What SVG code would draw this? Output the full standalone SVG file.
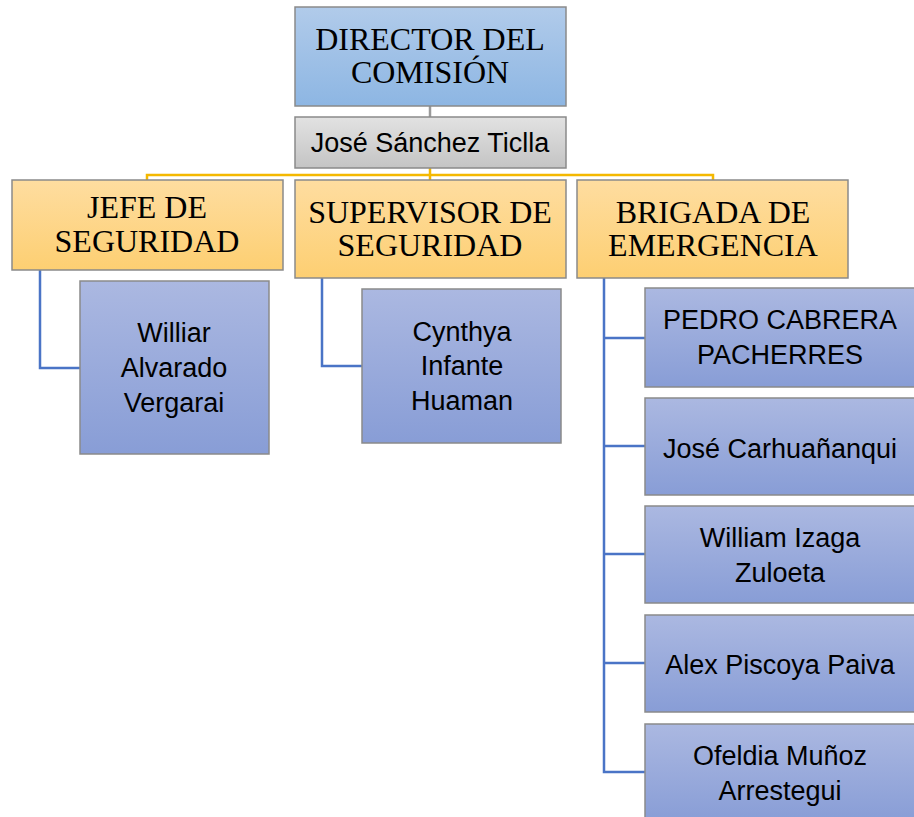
<svg xmlns="http://www.w3.org/2000/svg" width="914" height="817" viewBox="0 0 914 817">
<defs>
<linearGradient id="gBlue" x1="0" y1="0" x2="0" y2="1"><stop offset="0" stop-color="#b1cbea"/><stop offset="1" stop-color="#8db6e3"/></linearGradient>
<linearGradient id="gGray" x1="0" y1="0" x2="0" y2="1"><stop offset="0" stop-color="#e2e2e2"/><stop offset="1" stop-color="#c4c4c4"/></linearGradient>
<linearGradient id="gOrange" x1="0" y1="0" x2="0" y2="1"><stop offset="0" stop-color="#fedda0"/><stop offset="1" stop-color="#fdcf72"/></linearGradient>
<linearGradient id="gPurple" x1="0" y1="0" x2="0" y2="1"><stop offset="0" stop-color="#abb8e1"/><stop offset="1" stop-color="#889dd6"/></linearGradient>
</defs>
<style>
.box{stroke:#8a8a8a;stroke-width:1.5}
.serif{font-family:"Liberation Serif","Times New Roman",serif;font-size:32px;fill:#000;text-anchor:middle}
.sans{font-family:"Liberation Sans",Arial,sans-serif;font-size:27px;fill:#000;text-anchor:middle}
.cy{stroke:#f4b800;stroke-width:2.5;fill:none}
.cb{stroke:#4a74c6;stroke-width:2.5;fill:none}
.cg{stroke:#9a9a9a;stroke-width:2.5;fill:none}
</style>
<g id="connectors">
<path class="cg" d="M430 106V117"/>
<path class="cy" d="M430 168V175M147 180V175H713V180M430 175V180"/>
<path class="cb" d="M40 270V368H80"/>
<path class="cb" d="M322 278V366H362"/>
<path class="cb" d="M604 278V772H645M604 338H645M604 446H645M604 554H645M604 663H645"/>
</g>
<g id="director">
<rect class="box" x="295" y="7" width="271" height="99" fill="url(#gBlue)"/>
<text class="serif" x="430" y="50">DIRECTOR DEL</text>
<text class="serif" x="430" y="83">COMISIÓN</text>
</g>
<g id="jose-sanchez">
<rect class="box" x="295" y="117" width="271" height="51" fill="url(#gGray)"/>
<text class="sans" x="430" y="152">José Sánchez Ticlla</text>
</g>
<g id="jefe">
<rect class="box" x="12" y="180" width="271" height="90" fill="url(#gOrange)"/>
<text class="serif" x="147" y="218">JEFE DE</text>
<text class="serif" x="147" y="252">SEGURIDAD</text>
</g>
<g id="supervisor">
<rect class="box" x="295" y="180" width="271" height="98" fill="url(#gOrange)"/>
<text class="serif" x="430" y="223">SUPERVISOR DE</text>
<text class="serif" x="430" y="256">SEGURIDAD</text>
</g>
<g id="brigada">
<rect class="box" x="577" y="180" width="271" height="98" fill="url(#gOrange)"/>
<text class="serif" x="713" y="223">BRIGADA DE</text>
<text class="serif" x="713" y="256">EMERGENCIA</text>
</g>
<g id="williar">
<rect class="box" x="80" y="281" width="189" height="173" fill="url(#gPurple)"/>
<text class="sans" x="174" y="342">Williar</text>
<text class="sans" x="174" y="377">Alvarado</text>
<text class="sans" x="174" y="412">Vergarai</text>
</g>
<g id="cynthya">
<rect class="box" x="362" y="289" width="199" height="154" fill="url(#gPurple)"/>
<text class="sans" x="462" y="341">Cynthya</text>
<text class="sans" x="462" y="375">Infante</text>
<text class="sans" x="462" y="410">Huaman</text>
</g>
<g id="pedro">
<rect class="box" x="645" y="288" width="271" height="99" fill="url(#gPurple)"/>
<text class="sans" x="780" y="329">PEDRO CABRERA</text>
<text class="sans" x="780" y="364">PACHERRES</text>
</g>
<g id="jose-carhuananqui">
<rect class="box" x="645" y="398" width="271" height="97" fill="url(#gPurple)"/>
<text class="sans" x="780" y="458">José Carhuañanqui</text>
</g>
<g id="william">
<rect class="box" x="645" y="506" width="271" height="97" fill="url(#gPurple)"/>
<text class="sans" x="780" y="547">William Izaga</text>
<text class="sans" x="780" y="582">Zuloeta</text>
</g>
<g id="alex">
<rect class="box" x="645" y="615" width="271" height="97" fill="url(#gPurple)"/>
<text class="sans" x="780" y="674">Alex Piscoya Paiva</text>
</g>
<g id="ofeldia">
<rect class="box" x="645" y="724" width="271" height="98" fill="url(#gPurple)"/>
<text class="sans" x="780" y="765">Ofeldia Muñoz</text>
<text class="sans" x="780" y="800">Arrestegui</text>
</g>
</svg>
